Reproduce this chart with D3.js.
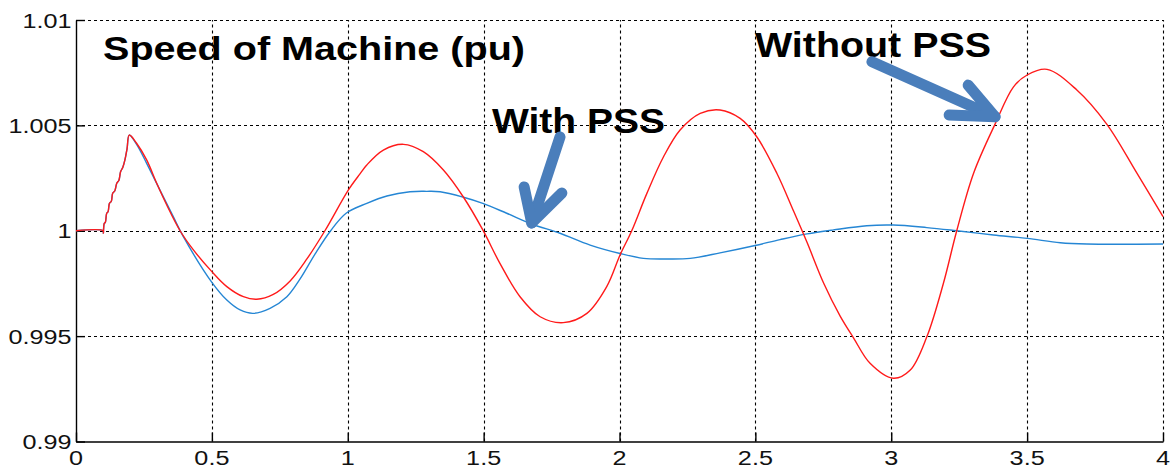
<!DOCTYPE html>
<html>
<head>
<meta charset="utf-8">
<script src="https://cdn.jsdelivr.net/npm/d3@7"></script>
<style>
  html, body { margin: 0; padding: 0; background: #fff; }
  svg { display: block; }
  .tick-label { font-family: "Liberation Sans", Arial, sans-serif; font-size: 21px; fill: #111; }
  .note { font-family: "Liberation Sans", Arial, sans-serif; font-weight: bold; fill: #000; }
</style>
</head>
<body>
<div id="chart"></div>
<script>
// speed with PSS (blue)
const tWith = [0, 0.1, 0.1006, 0.104, 0.108, 0.113, 0.118, 0.123, 0.13, 0.135, 0.143, 0.15, 0.158, 0.164, 0.172, 0.18, 0.188, 0.196,
  0.223, 0.26, 0.309, 0.358, 0.395, 0.5, 0.555, 0.604, 0.651, 0.714, 0.776, 0.824, 0.88, 0.937, 0.994, 1.07, 1.144, 1.229, 1.29, 1.34,
  1.426, 1.497, 1.585, 1.677, 1.781, 1.892, 2.002, 2.088, 2.174, 2.26, 2.37, 2.499, 2.591, 2.69, 2.787, 2.91, 3.008, 3.131, 3.241,
  3.376, 3.5, 3.622, 3.72, 4.0];
const speedWith = [1, 1, 0.99988, 1.00035, 1.0004, 1.00083, 1.0009, 1.0013, 1.0014, 1.00178, 1.0019, 1.00225, 1.0024, 1.0028, 1.003, 1.00336, 1.0039, 1.00454,
  1.0041, 1.0032, 1.00193, 1.00067, 0.99972, 0.99755, 0.99671, 0.99624, 0.99608, 0.99632, 0.99687, 0.9977, 0.9989, 1.0, 1.00083, 1.0013, 1.00165, 1.00185, 1.00187, 1.00185,
  1.00159, 1.0013, 1.00083, 1.00032, 0.99988, 0.99932, 0.99892, 0.99869, 0.99866, 0.99869, 0.99895, 0.9993, 0.99958, 0.99985, 1.00004, 1.00024, 1.00027, 1.00015, 1.0,
  0.9998, 0.99964, 0.99943, 0.99937, 0.99937];

// speed without PSS (red)
const tWithout = [0, 0.1, 0.1006, 0.104, 0.108, 0.113, 0.118, 0.123, 0.13, 0.135, 0.143, 0.15, 0.158, 0.164, 0.172, 0.18, 0.188, 0.196,
  0.223, 0.26, 0.297, 0.334, 0.383, 0.432, 0.5, 0.555, 0.616, 0.665, 0.726, 0.788, 0.849, 0.916, 1.002, 1.045, 1.07, 1.131, 1.205,
  1.278, 1.352, 1.426, 1.497, 1.56, 1.634, 1.708, 1.793, 1.88, 1.953, 2.002, 2.045, 2.1, 2.162, 2.223, 2.297, 2.37, 2.444, 2.505, 2.579,
  2.64, 2.69, 2.751, 2.812, 2.861, 2.922, 3.008, 3.07, 3.131, 3.192, 3.241, 3.303, 3.382, 3.45, 3.5, 3.573, 3.683, 3.793, 3.904, 4.0];
const speedWithout = [1, 1, 0.99988, 1.00035, 1.0004, 1.00083, 1.0009, 1.0013, 1.0014, 1.00178, 1.0019, 1.00225, 1.0024, 1.0028, 1.003, 1.00336, 1.0039, 1.00454,
  1.00415, 1.00336, 1.00225, 1.00122, 1.0, 0.99909, 0.99806, 0.99735, 0.99687, 0.99675, 0.99698, 0.99762, 0.99865, 1.0, 1.00193, 1.0027, 1.00312, 1.00383, 1.0041,
  1.00375, 1.00288, 1.00159, 1.00004, 0.99845, 0.99687, 0.99592, 0.99564, 0.99608, 0.99735, 0.99885, 1.0, 1.00175, 1.00351, 1.00478, 1.00557, 1.00573, 1.00533, 1.00446, 1.00273,
  1.00095, 0.99945, 0.99752, 0.99595, 0.99492, 0.99371, 0.993, 0.99339, 0.99497, 0.99751, 1.0, 1.00273, 1.00506, 1.00683, 1.00739, 1.00766, 1.00668, 1.00506, 1.00273, 1.00067];

const xTicks = [0, 0.5, 1, 1.5, 2, 2.5, 3, 3.5, 4];
const xTickLabels = ["0", "0.5", "1", "1.5", "2", "2.5", "3", "3.5", "4"];
const yTicks = [0.99, 0.995, 1, 1.005, 1.01];
const yTickLabels = ["0.99", "0.995", "1", "1.005", "1.01"];

const width = 1174;
const height = 472;
const margin = { left: 76, right: 11, top: 20, bottom: 30.5 };

const svg = d3.select("#chart")
  .append("svg")
  .attr("width", width)
  .attr("height", height);

const x = d3.scaleLinear().domain([0, 4]).range([margin.left, width - margin.right]);
const y = d3.scaleLinear().domain([0.99, 1.01]).range([height - margin.bottom, margin.top]);

// grid (dashed)
const grid = svg.append("g")
  .attr("stroke", "#000")
  .attr("stroke-width", 1.1)
  .attr("stroke-dasharray", "3,3");
grid.selectAll(".gx").data(xTicks.slice(1)).join("line")
  .attr("x1", d => Math.round(x(d)) + 0.5).attr("x2", d => Math.round(x(d)) + 0.5)
  .attr("y1", y(0.99)).attr("y2", y(1.01));
grid.selectAll(".gy").data(yTicks.slice(1)).join("line")
  .attr("y1", d => Math.round(y(d)) + 0.5).attr("y2", d => Math.round(y(d)) + 0.5)
  .attr("x1", x(0)).attr("x2", x(4));

// axes
const xAxis = d3.axisBottom(x).tickValues(xTicks).tickSizeInner(-9).tickSizeOuter(0).tickFormat("");
const yAxis = d3.axisLeft(y).tickValues(yTicks).tickSizeInner(-9).tickSizeOuter(0).tickFormat("");
svg.append("g").attr("transform", `translate(0,${y(0.99)})`).call(xAxis)
  .call(g => g.selectAll("path,line").attr("stroke", "#000").attr("stroke-width", 1.4));
svg.append("g").attr("transform", `translate(${x(0)},0)`).call(yAxis)
  .call(g => g.selectAll("path,line").attr("stroke", "#000").attr("stroke-width", 1.4));

// tick labels
svg.append("g").selectAll("text").data(xTicks).join("text")
  .attr("class", "tick-label")
  .attr("text-anchor", "middle")
  .attr("transform", d => `translate(${x(d)},${y(0.99) + 23.5}) scale(1.2,1)`)
  .text((d, i) => xTickLabels[i]);
svg.append("g").selectAll("text").data(yTicks).join("text")
  .attr("class", "tick-label")
  .attr("text-anchor", "end")
  .attr("transform", d => `translate(${x(0) - 4.5},${y(d) + 7.5}) scale(1.2,1)`)
  .text((d, i) => yTickLabels[i]);

// curves
const line = d3.line()
  .x(d => x(d[0]))
  .y(d => y(d[1]))
  .curve(d3.curveCatmullRom.alpha(0.5));

svg.append("path")
  .datum(tWith.map((t, i) => [t, speedWith[i]]))
  .attr("fill", "none")
  .attr("stroke", "#2586d4")
  .attr("stroke-width", 1.4)
  .attr("d", line);

svg.append("path")
  .datum(tWithout.map((t, i) => [t, speedWithout[i]]))
  .attr("fill", "none")
  .attr("stroke", "#ff1a1a")
  .attr("stroke-width", 1.4)
  .attr("d", line);

// annotations
svg.append("text").attr("class", "note")
  .attr("x", 103).attr("y", 60).attr("font-size", 34)
  .attr("textLength", 422).attr("lengthAdjust", "spacingAndGlyphs")
  .text("Speed of Machine (pu)");
svg.append("text").attr("class", "note")
  .attr("x", 492).attr("y", 133).attr("font-size", 35)
  .attr("textLength", 173).attr("lengthAdjust", "spacingAndGlyphs")
  .text("With PSS");
svg.append("text").attr("class", "note")
  .attr("x", 755).attr("y", 57).attr("font-size", 35)
  .attr("textLength", 236).attr("lengthAdjust", "spacingAndGlyphs")
  .text("Without PSS");

// arrows, in data units: tail, tip, two barbs
const arrows = [
  { tail: [1.781, 1.00445], tip: [1.677, 1.00037], barbs: [[1.649, 1.00208], [1.788, 1.00179]] },
  { tail: [2.929, 1.00802], tip: [3.382, 1.00541], barbs: [[3.283, 1.00691], [3.213, 1.00549]] }
];
const arrowG = svg.append("g")
  .attr("stroke", "#4a7ebb")
  .attr("stroke-width", 11)
  .attr("stroke-linecap", "round")
  .attr("stroke-linejoin", "round")
  .attr("fill", "none");
arrows.forEach(a => {
  arrowG.append("line")
    .attr("x1", x(a.tail[0])).attr("y1", y(a.tail[1]))
    .attr("x2", x(a.tip[0])).attr("y2", y(a.tip[1]));
  arrowG.append("path")
    .attr("d", d3.line()([[x(a.barbs[0][0]), y(a.barbs[0][1])], [x(a.tip[0]), y(a.tip[1])], [x(a.barbs[1][0]), y(a.barbs[1][1])]]));
});
</script>
</body>
</html>
